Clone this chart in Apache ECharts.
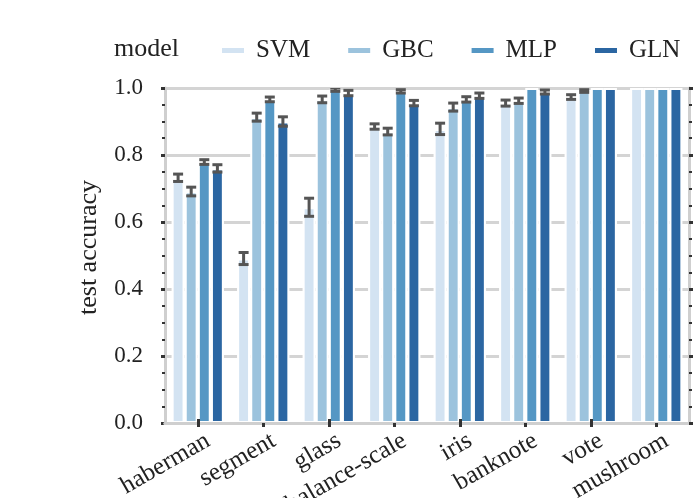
<!DOCTYPE html>
<html><head><meta charset="utf-8">
<script src="https://cdn.jsdelivr.net/npm/echarts@6/dist/echarts.min.js"></script>
<style>html,body{margin:0;padding:0;background:#fff}#c{width:694px;height:498px}</style>
</head><body><div id="c"></div>
<script>
const categories = ['haberman','segment','glass','balance-scale','iris','banknote','vote','mushroom'];
const models = ['SVM','GBC','MLP','GLN'];
const colors = ['#d3e3f2','#9cc3dd','#5597c4','#2b66a2'];
const svm    = [0.732, 0.491, 0.644, 0.885, 0.878, 0.955, 0.973, 1.0];
const svmErr = [0.011, 0.018, 0.027, 0.008, 0.017, 0.009, 0.007, 0];
const gbc    = [0.691, 0.913, 0.966, 0.870, 0.943, 0.962, 0.991, 1.0];
const gbcErr = [0.013, 0.012, 0.010, 0.010, 0.012, 0.008, 0.004, 0];
const mlp    = [0.779, 0.966, 0.995, 0.990, 0.966, 1.0, 1.0, 1.0];
const mlpErr = [0.007, 0.007, 0.005, 0.005, 0.008, 0, 0, 0];
const gln    = [0.760, 0.900, 0.985, 0.955, 0.977, 0.988, 1.0, 1.0];
const glnErr = [0.011, 0.014, 0.008, 0.008, 0.008, 0.006, 0, 0];
const yTicks = [0, 0.2, 0.4, 0.6, 0.8, 1.0];

const values = [svm, gbc, mlp, gln];
const errors = [svmErr, gbcErr, mlpErr, glnErr];
const FONT = "'Liberation Serif','DejaVu Serif',serif";
const TXT = '#222';
const FRAME = '#cfcfcf';
const TICK = '#333';

const errData = [];
values.forEach((arr, k) => arr.forEach((v, i) => errData.push([i, k, v, errors[k][i]])));

const barSeries = models.map((m, k) => ({
  name: m, type: 'bar', data: values[k],
  barWidth: '20%', barGap: '0%',
  itemStyle: { color: colors[k], borderColor: '#fff', borderWidth: 2.1 },
  z: 2
}));

const errSeries = {
  type: 'custom', name: 'err', z: 5, clip: true,
  encode: { x: 0, y: 2 },
  data: errData,
  renderItem: function (params, api) {
    const ci = api.value(0), k = api.value(1), v = api.value(2), e = api.value(3);
    if (!e) return null;
    const band = api.size([1, 0])[0];
    const off = (k - 1.5) * band * 0.2;
    const t = api.coord([ci, v + e]);
    const b = api.coord([ci, v - e]);
    const x = t[0] + off;
    const hw = 5;
    const st = { stroke: '#555', lineWidth: 3 };
    return { type: 'group', children: [
      { type: 'line', shape: { x1: x, y1: t[1], x2: x, y2: b[1] }, style: st },
      { type: 'line', shape: { x1: x - hw, y1: t[1], x2: x + hw, y2: t[1] }, style: st },
      { type: 'line', shape: { x1: x - hw, y1: b[1], x2: x + hw, y2: b[1] }, style: st }
    ]};
  }
};

const chart = echarts.init(document.getElementById('c'), null, { renderer: 'canvas' });
chart.setOption({
  backgroundColor: '#fff',
  animation: false,
  title: { text: 'model', left: 109, top: 31, textStyle: { fontFamily: FONT, fontSize: 26, fontWeight: 'normal', color: TXT } },
  legend: {
    data: models, left: 215, top: 33, icon: 'rect', itemWidth: 24, itemHeight: 7, itemGap: 36,
    textStyle: { fontFamily: FONT, fontSize: 25, color: TXT, padding: [0, 0, 0, 6] }
  },
  grid: { left: 165, right: 5, top: 88, bottom: 75, containLabel: false, outerBoundsMode: 'none' },
  xAxis: [
    { type: 'category', data: categories, position: 'bottom', z: 10,
      axisLine: { show: true, lineStyle: { color: FRAME, width: 3 } },
      axisTick: { show: true, alignWithLabel: true, length: 4, lineStyle: { color: TICK, width: 3 } },
      axisLabel: { rotate: 30, margin: 22, padding: [0, -12, 0, 0], fontFamily: FONT, fontSize: 25, color: TXT },
      splitLine: { show: false } },
    { type: 'category', data: categories, position: 'top', z: 10,
      axisLine: { show: true, lineStyle: { color: FRAME, width: 3 } },
      axisTick: { show: true, alignWithLabel: true, length: 4, lineStyle: { color: TICK, width: 3 } },
      axisLabel: { show: false }, splitLine: { show: false } }
  ],
  yAxis: [
    { type: 'value', min: 0, max: 1, interval: 0.2, position: 'left', z: 0,
      name: 'test accuracy', nameLocation: 'middle', nameGap: 63,
      nameTextStyle: { fontFamily: FONT, fontSize: 26, color: TXT, padding: [0, 0, 0, 16] },
      axisLine: { show: true, lineStyle: { color: FRAME, width: 3 } },
      axisTick: { show: true, length: 4, lineStyle: { color: TICK, width: 3 } },
      minorTick: { show: true, splitNumber: 4, length: 3, lineStyle: { color: TICK, width: 2 } },
      axisLabel: { margin: 22, fontFamily: FONT, fontSize: 23, color: TXT,
        formatter: v => yTicks.find(t => Math.abs(t - v) < 1e-9).toFixed(1) },
      splitLine: { show: true, lineStyle: { color: '#d4d4d4', width: 3 } } },
    { type: 'value', min: 0, max: 1, interval: 0.2, position: 'right', z: 10,
      axisLine: { show: true, lineStyle: { color: FRAME, width: 3 } },
      axisTick: { show: true, length: 4, lineStyle: { color: TICK, width: 3 } },
      minorTick: { show: true, splitNumber: 4, length: 3, lineStyle: { color: TICK, width: 2 } },
      axisLabel: { show: false }, splitLine: { show: false } }
  ],
  series: barSeries.concat([errSeries])
});
</script></body></html>
